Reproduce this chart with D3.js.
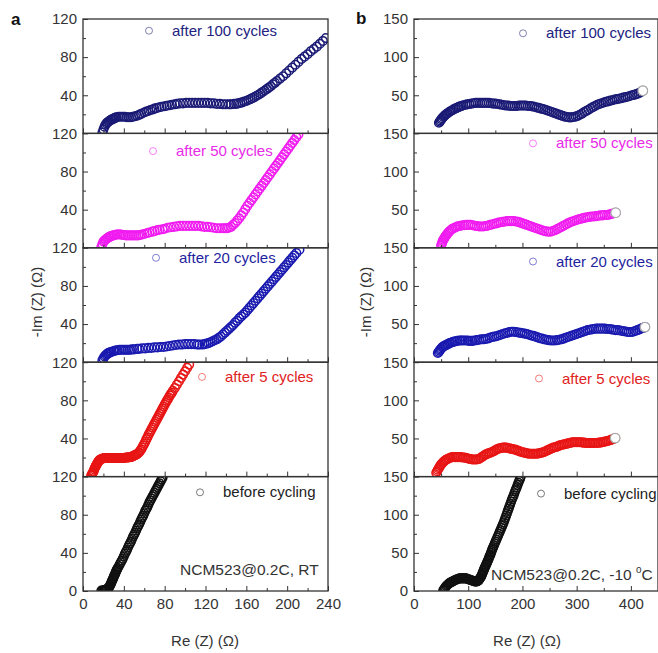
<!DOCTYPE html>
<html>
<head>
<meta charset="utf-8">
<script src="https://cdn.jsdelivr.net/npm/d3@7"></script>
<style>
  body { margin: 0; background: #fff; }
  svg { display: block; font-family: "Liberation Sans", Arial, sans-serif; }
</style>
</head>
<body>
<svg id="chart" width="658" height="653"></svg>
<script>
// ---- data (Re Z, -Im Z) in ohm ----
const seriesNames = ["after 100 cycles", "after 50 cycles", "after 20 cycles", "after 5 cycles", "before cycling"];
const seriesColors = ["#1b1b76", "#f01cf0", "#1a1ab0", "#e81515", "#111111"];
const legendColors = ["#22227f", "#e82ae8", "#1f1fa0", "#e02222", "#222222"];

const xTicksA = [0, 40, 80, 120, 160, 200, 240];
const xMinorA = [20, 60, 100, 140, 180, 220];
const yTicksA = [40, 80, 120];
const yMinorA = [20, 60, 100];
const xTicksB = [0, 100, 200, 300, 400];
const xMinorB = [50, 150, 250, 350];
const yTicksB = [50, 100, 150];
const yMinorB = [25, 75, 125];

// panel a: room temperature
const rt100 = [[19,1],[20,4],[21,7],[22,9],[23,10.5],[24,11.5],[25,12.5],[26,13],[27,14],[28,14.5],[29,15],[30,15.5],[31,16],[32,16.5],[33,17],[35,17.5],[37,17.5],[39,17.5],[41,17.5],[43,17],[45,17],[47,17],[49,17.5],[51,18],[53,18.5],[55,19.5],[57,20.5],[60,22],[62,23],[64,23.5],[66,24.5],[68,25],[70,26],[72,26.5],[75,27.5],[77,28],[80,28.5],[82,29],[85,29.5],[87,30],[90,30.5],[92,31],[95,31.5],[98,31.5],[101,32],[104,32],[107,32],[110,32],[113,32],[116,32],[119,32],[122,32],[125,31.5],[128,31.5],[131,31],[134,31],[137,30.5],[140,30.5],[143,30.5],[145,30.5],[148,31],[150,31],[152,31.5],[154,32],[156,32.5],[158,33.5],[160,34],[162,35],[164,36],[166,37],[168,38],[170,39.5],[172,40.5],[174,42],[176,43.5],[178,45],[180,46.5],[182,48],[184,49.5],[186,51.5],[188,53],[190,55],[193,57.5],[196,60],[199,63],[202,66],[205,69],[208,72],[211,75],[214,78],[217,80.5],[220,83],[223,86],[226,88.5],[229,91],[232,94],[235,97],[238,100]];
const rt50 = [[18,1],[19,4],[20,6.5],[21,7.5],[22,8.5],[23,9.5],[24,10],[25,11],[26,11.5],[27,12],[28,12.5],[30,13],[31,13.5],[33,14],[34,14],[36,14],[37,14],[39,13.5],[40,13.5],[42,13],[44,13],[46,13],[48,13],[50,13],[52,13],[54,13],[56,13.5],[58,14],[60,14.5],[63,15.5],[65,16],[68,17],[70,17.5],[73,18.5],[75,19],[78,19.5],[80,20],[83,21],[86,21.5],[89,22],[92,22.5],[95,23],[98,23],[101,23],[104,23],[107,23],[110,23],[113,23],[116,22.5],[119,22],[122,22],[125,21.5],[128,21],[131,20.5],[134,20.5],[137,20.5],[139,20.5],[141,20.5],[143,21],[145,22],[147,24],[149,26],[151,28.5],[153,31],[155,34],[157,37],[159,40.5],[161,44],[163,47],[165,50],[167,53],[169,56],[171,59],[173,62],[175,65],[177,68],[179,71],[181,74],[183,77],[185,80],[187,83],[189,86],[191,89],[193,92],[195,95],[197,98],[199,101],[201,104],[203,107],[205,110],[207,113],[209,116],[211,119]];
const rt20 = [[19,2],[20,4],[21,6],[22,7],[23,8],[24,9],[25,9.5],[26,10],[27,10.5],[28,11],[30,11.5],[31,12],[33,12.5],[34,12.5],[36,13],[38,13],[40,13],[42,13],[44,13],[46,13],[48,13.5],[50,13.5],[53,14],[55,14],[58,14.5],[61,14.5],[64,15],[67,15],[70,15.5],[73,15.5],[76,16],[79,16],[82,16.5],[85,17],[88,17.5],[91,18],[94,18.5],[97,18.5],[100,19],[103,19],[106,19],[109,19],[112,18.5],[114,18.5],[117,18.5],[119,19],[121,19.5],[123,20],[125,21],[127,22],[129,23],[131,24],[133,25.5],[135,27],[137,29],[139,31],[141,33],[143,35],[145,37],[147,39],[149,41.5],[151,43.5],[153,46],[155,48],[157,50],[159,52],[161,54.5],[163,57],[165,59.5],[167,62],[169,64.5],[171,67],[173,69.5],[175,72],[177,74.5],[179,77],[181,79.5],[183,82],[185,84.5],[187,87],[189,89.5],[191,92],[193,94.5],[195,97],[197,99.5],[199,102],[201,104.5],[203,107],[205,109.5],[207,112],[209,114.5],[212,118]];
const rt5 = [[8,1],[8.5,2],[9,3],[9.5,4],[10,5],[10.5,6],[11,7.5],[11.5,9],[12,10],[12.5,11],[13,12],[13.5,13],[14,14],[14.5,15],[15,15.5],[15.5,16.5],[16,17],[17,18],[18,18.5],[19,19],[20,19],[21,19.5],[22,19.5],[23,19.5],[24,19.5],[25,19.5],[26,19.5],[27,19.5],[28,19.5],[29,19.5],[30,19.5],[31,19.5],[32,19.5],[33,19.5],[34,19.5],[35,19.5],[36,19.5],[37,19.5],[38,19.5],[39,19.5],[40,19.5],[41,19.5],[42,20],[43,20],[44,20],[45,20],[46,20.5],[47,20.5],[48,21],[49,21.5],[50,22],[51,22.5],[52,23],[53,23.5],[54,24.5],[55,25.5],[56,27],[57,28.5],[58,30.5],[59,32.5],[60,34.5],[61,36.5],[62,39],[63,41],[64,43.5],[65,45.5],[66,47.5],[67,49.5],[68,51.5],[69,53.5],[70,55.5],[71,57.5],[72,59.5],[73,61.5],[74,63.5],[75,65.5],[76,67.5],[77,69.5],[78,71.5],[79,73.5],[80,75.5],[81,77.5],[82,79.5],[83,81],[84,83],[85,85],[86,86.5],[87,88],[88,90],[90,93],[92,96.5],[94,100],[96,103.5],[98,107],[100,110.5],[102,114],[104,117.5]];
const rt0 = [[18,0.5],[19,0.5],[20,0.5],[21,1],[21.5,1],[22,1],[22.5,1.5],[23,1.5],[23.5,2],[24,2],[24.5,2.5],[25,3],[25.5,4],[26,5],[26.5,6],[27,7],[27.5,8],[28,9.5],[28.5,11],[29,12],[29.5,13],[30,14.5],[30.5,16],[31,17],[31.5,18],[32,19.5],[32.5,21],[33,22],[33.5,23],[34,24],[35,26],[36,28],[37,30],[38,32],[39,34],[40,36.5],[41,39],[42,41],[43,43],[44,45.5],[45,48],[46,50],[47,52],[48,54.5],[49,57],[50,59],[51,61],[52,63.5],[53,66],[54,68],[55,70],[56,72.5],[57,75],[58,77],[59,79],[60,81.5],[61,84],[62,86],[63,88],[64,90.5],[65,93],[66,95],[67,97],[68,99],[69,101],[70,103],[71,105],[72,107],[73,109],[74,111],[75,113],[76,115],[77,117],[78,119]];

// panel b: -10 °C
const lt100 = [[46,14],[47.5,15.5],[49,17],[50.5,18.5],[52,20],[54,21.5],[56,23],[58,24.5],[60,25.5],[62,26.5],[65,28],[67,29],[70,30],[73,31.5],[76,32.5],[79,33.5],[82,34.5],[85,35.5],[88,36],[91,37],[95,37.5],[98,38],[102,38.5],[106,39],[110,39.5],[114,40],[118,40],[122,40],[126,40],[130,40],[134,40],[138,40],[142,39.5],[146,39],[150,39],[154,38.5],[158,38],[162,37.5],[166,37],[170,36.5],[174,36.5],[178,36],[182,36],[186,36],[190,36],[194,36.5],[198,36.5],[202,36.5],[206,36.5],[210,36],[214,36],[218,35.5],[222,35],[226,34],[230,33.5],[234,32.5],[238,32],[242,31],[246,30],[250,29],[254,28],[258,27],[262,26],[266,25],[270,24],[274,23],[278,22],[282,21.5],[286,21],[290,21],[294,21.5],[298,22],[302,23],[306,24.5],[310,26],[314,28],[318,29.5],[322,31],[326,33],[330,34.5],[334,36],[338,37.5],[342,38.5],[346,39.5],[350,40.5],[354,41.5],[358,42],[362,43],[366,43.5],[370,44.5],[374,45],[378,45.5],[382,46],[386,47],[390,47.5],[394,48],[398,49],[402,50],[406,50.5],[410,51.5],[414,52.5],[418,54],[422,56]];
const lt50 = [[50,3],[51,5],[52,7],[53,9],[54,10.5],[55.5,12],[57,14],[58.5,15.5],[60,17],[62,19],[64,20.5],[66,22],[69,24],[71,25],[74,26],[77,27],[80,28],[83,28.5],[86,29],[90,29.5],[93,29.5],[96,30],[100,30],[104,30],[108,29.5],[112,29],[116,28.5],[120,28],[124,28],[128,28],[132,28.5],[136,29],[140,30],[144,30.5],[148,31.5],[152,32],[156,33],[160,33.5],[164,34],[168,34.5],[172,35],[176,35],[180,35],[184,35],[188,34.5],[192,34],[196,33],[200,32],[204,31],[208,30],[212,29],[216,28],[220,27],[224,26],[228,25],[232,24],[236,23],[240,22],[244,21.5],[248,21],[252,21],[256,22],[260,23],[264,24.5],[268,26],[272,27.5],[276,29],[280,30.5],[284,32],[288,33.5],[292,34.5],[296,35.5],[300,36.5],[304,37.5],[308,38],[312,39],[316,39.5],[320,40],[324,40.5],[328,41],[332,41],[336,41.5],[340,42],[344,42.5],[348,42.5],[352,43],[356,43],[360,43.5],[364,44.5],[368,45],[372,46]];
const lt20 = [[44,12],[45.5,13.5],[47,15],[48.5,16.5],[50,18],[52,19.5],[54,20.5],[56,21.5],[58,22],[61,23],[63,24],[66,25],[68,25.5],[71,26.5],[74,27],[77,27.5],[80,28],[84,28.5],[87,28.5],[90,28.5],[94,28.5],[98,28.5],[101,28],[105,28],[108,28],[112,28.5],[116,29],[120,29.5],[124,30],[128,30],[132,30.5],[136,31],[140,32],[144,33],[148,33.5],[152,34],[156,35],[160,36],[164,37],[168,38],[172,38.5],[176,39.5],[180,40],[184,40],[188,39.5],[192,39],[196,38.5],[200,38],[204,37.5],[208,37],[212,36],[216,35],[220,34.5],[224,33.5],[228,32.5],[232,31.5],[236,31],[240,30],[244,29.5],[248,29],[252,28.5],[256,28.5],[260,28.5],[264,29],[268,29.5],[272,30],[276,31],[280,32],[284,33],[288,34],[292,35],[296,36],[300,37],[304,38],[308,39],[312,40],[316,41],[320,42],[324,42.5],[328,43],[332,43.5],[336,44],[340,44],[344,44],[348,44],[352,44],[356,43.5],[360,43.5],[364,43],[368,42.5],[372,42],[376,42],[380,41.5],[384,41],[388,40.5],[392,40],[396,39.5],[400,39.5],[404,40],[408,41],[412,42],[416,43],[420,44.5],[423,45],[426,46]];
const lt5 = [[41,5],[42.5,7],[44,9],[45.5,11],[47,12.5],[48.5,14.5],[50,16],[52,17.5],[54,19],[56,20.5],[58,21.5],[60,22.5],[63,23.5],[65,24],[68,25],[71,25.5],[74,25.5],[77,25.5],[80,25.5],[83,25.5],[86,25.5],[89,25],[92,25],[95,24.5],[98,24],[101,23.5],[104,23],[107,22.5],[110,22.5],[113,22.5],[116,22.5],[119,23],[122,24],[125,25.5],[128,27],[131,28.5],[134,29.5],[137,30.5],[140,31],[143,32],[146,33],[149,34],[152,35.5],[155,36.5],[158,37],[161,37.5],[164,38],[167,38],[170,38],[173,37.5],[176,37],[179,36.5],[182,36],[185,35.5],[188,35],[191,34],[194,33.5],[197,32.5],[200,32],[203,31.5],[206,31],[209,30.5],[212,30],[215,30],[218,30],[221,30],[224,30],[227,30],[230,30.5],[233,31],[236,31.5],[239,32],[242,33],[245,34],[248,35],[251,36],[254,37],[257,38],[260,38.5],[263,39],[266,40],[269,41],[272,41.5],[275,42],[278,42.5],[281,43],[284,43.5],[287,44],[290,44.5],[293,45],[296,45],[299,45],[302,45],[305,45],[308,45],[311,44.5],[314,44.5],[317,44],[320,44],[323,44],[326,44],[329,44],[332,44],[335,44],[338,44],[341,44.5],[344,44.5],[347,45],[350,45.5],[353,46],[356,46.5],[359,47],[362,48],[365,48.5],[368,49.5],[371,50.5]];
const lt0 = [[54,1],[55,2],[56.5,3.5],[58,5],[59.5,6.5],[61,7.5],[62.5,8.5],[64,9.5],[65.5,10.5],[67,11],[68.5,11.5],[70,12],[72,13],[74,13.5],[76,14.5],[78,15],[80,15.5],[82,16],[84,16.5],[86,16.5],[88,16.5],[90,16.5],[92,16.5],[94,16.5],[96,16.5],[98,16],[100,15.5],[102,15],[104,14.5],[106,14],[108,13.5],[110,13],[112,12.5],[113,12.5],[114.5,12.5],[116,12.5],[117,13],[118,13.5],[119,14],[120,15],[121,16],[122,17],[123,18],[124,19.5],[125,21],[126,23],[127,24.5],[128,26.5],[129,28],[130,30],[131,31.5],[132,33],[133,34.5],[134,36],[135,38],[136,39.5],[137,41],[138,43],[139,45],[140,46.5],[141,48],[142,50],[143,52],[144,54],[145,56],[146,57.5],[147.5,60],[149,62.5],[150.5,65],[152,67.5],[153.5,70],[155,72.5],[156.5,75],[158,77.5],[159.5,80],[161,82.5],[162.5,85],[164,87.5],[165.5,90],[167,93],[168.5,96],[170,99],[171.5,102],[173,105],[174.5,108],[176,111],[177.5,114],[179,117],[180.5,120],[182,122.5],[183.5,125],[185,128],[186.5,131],[188,133.5],[189.5,136],[191,139],[192.5,142],[194,144.5],[195.5,147],[197,150]];

// ---- layout ----
const panelTop = 19, panelH = 114.4;
const axisColor = "#333";

const sides = [
  {
    key: "a", left: 83, right: 328, xDomain: [0, 240], yDomain: [0, 120],
    xTicks: xTicksA, xMinor: xMinorA, yTicks: yTicksA, yMinor: yMinorA,
    series: [rt100, rt50, rt20, rt5, rt0], endMarker: false,
    legend: [[149, 11.7], [153, 17.7], [156, 10], [202, 14.7], [200, 15.7]],
    legendGap: 23,
    note: { x: 180, y: 575, text: "NCM523@0.2C, RT" },
    letter: { x: 11, y: 25 },
    yTitle: { x: 42, y: 302 }, xTitle: { x: 205, y: 646 }
  },
  {
    key: "b", left: 414, right: 658, xDomain: [0, 450], yDomain: [0, 150],
    xTicks: xTicksB, xMinor: xMinorB, yTicks: yTicksB, yMinor: yMinorB,
    series: [lt100, lt50, lt20, lt5, lt0], endMarker: true,
    legend: [[523, 14.3], [533, 10], [533, 13.7], [539, 16.3], [541, 17]],
    legendGap: 23,
    note: { x: 491, y: 580, text: "NCM523@0.2C, -10 ", sup: "o", after: "C" },
    letter: { x: 356, y: 24 },
    yTitle: { x: 371, y: 302 }, xTitle: { x: 527, y: 646 }
  }
];

const svg = d3.select("#chart");
const defs = svg.append("defs");

sides.forEach((side) => {
  const x = d3.scaleLinear().domain(side.xDomain).range([side.left, side.right]);
  const g = svg.append("g").attr("class", "side-" + side.key);

  side.series.forEach((pts, k) => {
    const top = panelTop + k * panelH;
    const bottom = top + panelH;
    const isLast = k === side.series.length - 1;
    const y = d3.scaleLinear().domain(side.yDomain).range([bottom, top]);

    const clipId = "clip-" + side.key + k;
    defs.append("clipPath").attr("id", clipId)
      .append("rect")
      .attr("x", side.left).attr("y", top)
      .attr("width", side.right - side.left).attr("height", panelH);

    const pg = g.append("g").attr("class", "panel");

    // data as open circles
    pg.append("g")
      .attr("clip-path", "url(#" + clipId + ")")
      .selectAll("circle")
      .data(pts)
      .join("circle")
      .attr("cx", (d) => x(d[0]))
      .attr("cy", (d) => y(d[1]))
      .attr("r", 4.3)
      .attr("fill", "none")
      .attr("stroke", seriesColors[k])
      .attr("stroke-width", 1.5);

    // highlighted last point on the -10 °C spectra
    if (side.endMarker && !isLast) {
      const lastPt = pts[pts.length - 1];
      pg.append("circle")
        .attr("cx", x(lastPt[0])).attr("cy", y(lastPt[1]))
        .attr("r", 4.8)
        .attr("fill", "#fff")
        .attr("stroke", "#aaa")
        .attr("stroke-width", 1.2);
    }

    // bottom axis: inward ticks, labels only on the lowest panel
    const bAxis = d3.axisBottom(x)
      .tickValues(side.xTicks)
      .tickSize(-5)
      .tickSizeOuter(0)
      .tickPadding(7)
      .tickFormat(isLast ? d3.format("d") : () => "");
    const bg = pg.append("g").attr("transform", `translate(0,${bottom})`).call(bAxis);
    const bMinor = d3.axisBottom(x).tickValues(side.xMinor).tickSize(-3).tickSizeOuter(0).tickFormat(() => "");
    const bmg = pg.append("g").attr("transform", `translate(0,${bottom})`).call(bMinor);

    // left axis
    const lAxis = d3.axisLeft(y)
      .tickValues(isLast ? [0].concat(side.yTicks) : side.yTicks)
      .tickSize(-5)
      .tickSizeOuter(0)
      .tickPadding(6)
      .tickFormat(d3.format("d"));
    const lg = pg.append("g").attr("transform", `translate(${side.left},0)`).call(lAxis);
    const lMinor = d3.axisLeft(y).tickValues(side.yMinor).tickSize(-3).tickSizeOuter(0).tickFormat(() => "");
    const lmg = pg.append("g").attr("transform", `translate(${side.left},0)`).call(lMinor);

    [bg, bmg, lg, lmg].forEach((ag) => {
      ag.select(".domain").remove();
      ag.selectAll("line").attr("stroke", axisColor).attr("stroke-width", 1);
      ag.selectAll("text")
        .attr("fill", axisColor)
        .style("font-size", "15px")
        .style("font-family", '"Liberation Sans", Arial, sans-serif');
    });

    // frame
    pg.append("rect")
      .attr("x", side.left).attr("y", top)
      .attr("width", side.right - side.left).attr("height", panelH)
      .attr("fill", "none")
      .attr("stroke", axisColor)
      .attr("stroke-width", 1.3);

    // legend
    const [lx, ly] = side.legend[k];
    pg.append("circle")
      .attr("cx", lx).attr("cy", top + ly)
      .attr("r", 3.5)
      .attr("fill", "none")
      .attr("stroke", seriesColors[k])
      .attr("stroke-opacity", 0.55)
      .attr("stroke-width", 1);
    pg.append("text")
      .attr("x", lx + side.legendGap)
      .attr("y", top + ly + 5)
      .attr("fill", legendColors[k])
      .style("font-size", "15px")
      .text(seriesNames[k]);
  });

  // sample note
  const note = g.append("text")
    .attr("x", side.note.x).attr("y", side.note.y)
    .attr("fill", "#333")
    .style("font-size", "15.5px")
    .text(side.note.text);
  if (side.note.sup) {
    note.append("tspan").attr("dy", -7).style("font-size", "10px").text(side.note.sup);
    note.append("tspan").attr("dy", 7).text(side.note.after);
  }

  // panel letter
  g.append("text")
    .attr("x", side.letter.x).attr("y", side.letter.y)
    .attr("fill", "#111")
    .style("font-size", "17px")
    .style("font-weight", "bold")
    .text(side.key);

  // axis titles
  g.append("text")
    .attr("transform", `translate(${side.yTitle.x},${side.yTitle.y}) rotate(-90)`)
    .attr("text-anchor", "middle")
    .attr("fill", "#333")
    .style("font-size", "15px")
    .text("-Im (Z) (\u03A9)");
  g.append("text")
    .attr("x", side.xTitle.x).attr("y", side.xTitle.y)
    .attr("text-anchor", "middle")
    .attr("fill", "#333")
    .style("font-size", "15px")
    .text("Re (Z) (\u03A9)");
});
</script>
</body>
</html>
